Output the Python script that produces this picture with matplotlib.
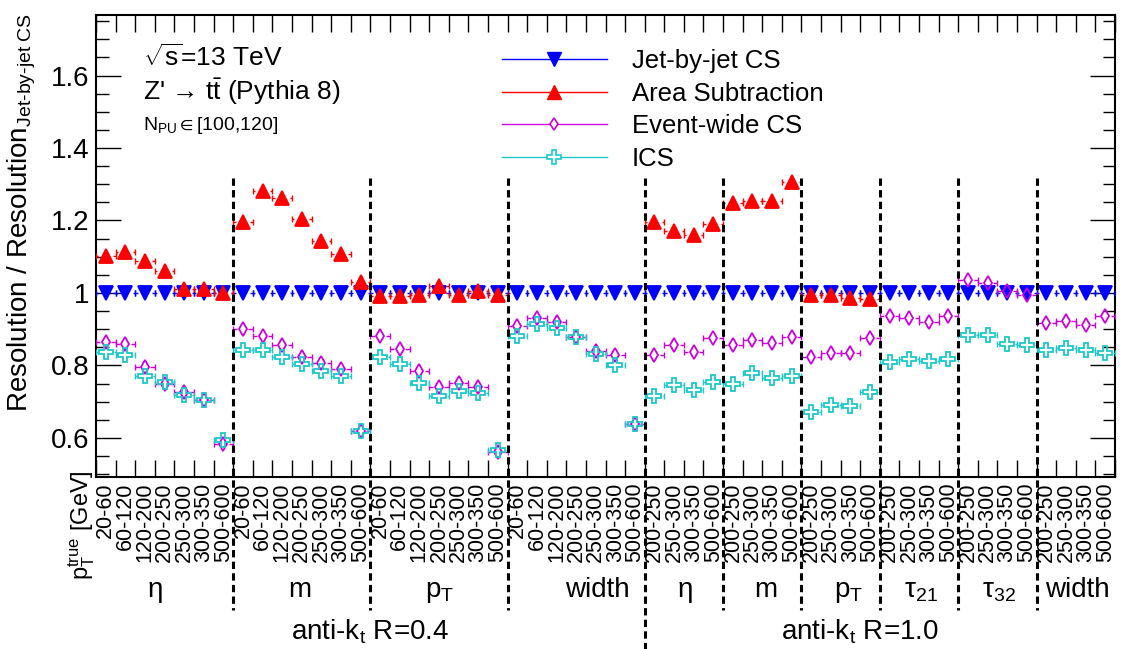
import numpy as np
import matplotlib
matplotlib.use('Agg')
import matplotlib.pyplot as plt
from matplotlib.lines import Line2D
from matplotlib.ticker import MultipleLocator, FuncFormatter
from matplotlib.transforms import blended_transform_factory

plt.rcParams['font.family'] = ['Liberation Sans', 'DejaVu Sans']
plt.rcParams['mathtext.fontset'] = 'custom'
plt.rcParams['mathtext.rm'] = 'Liberation Sans'
plt.rcParams['mathtext.it'] = 'Liberation Sans:italic'
plt.rcParams['mathtext.bf'] = 'Liberation Sans:bold'
plt.rcParams['mathtext.default'] = 'regular'

# pT bins for each jet collection
bins_r04 = ['20-60', '60-120', '120-200', '200-250', '250-300', '300-350', '500-600']
bins_r10 = ['200-250', '250-300', '300-350', '500-600']
obs_r04 = ['$\\eta$', 'm', 'p$_T$', 'width']
obs_r10 = ['$\\eta$', 'm', 'p$_T$', '$\\tau_{21}$', '$\\tau_{32}$', 'width']

nan = np.nan
# resolution ratios to jet-by-jet CS, one row per observable
jbj_cs = [1.0] * 52
area_sub = [1.102, 1.113, 1.087, 1.061, 1.011, 1.010, 0.999,
            1.195, 1.282, 1.263, 1.205, 1.142, 1.107, 1.030,
            0.992, 0.992, 0.995, 1.018, 0.995, 1.006, 0.995,
            nan, nan, nan, nan, nan, nan, nan,
            1.196, 1.172, 1.159, 1.190,
            1.249, 1.253, 1.253, 1.307,
            0.994, 0.994, 0.987, 0.982,
            nan, nan, nan, nan,
            nan, nan, nan, nan,
            nan, nan, nan, nan]
event_cs = [0.865, 0.859, 0.796, 0.750, 0.727, 0.704, 0.582,
            0.900, 0.882, 0.856, 0.824, 0.807, 0.790, 0.619,
            0.881, 0.844, 0.785, 0.741, 0.752, 0.741, 0.561,
            0.909, 0.930, 0.921, 0.879, 0.840, 0.828, 0.637,
            0.828, 0.856, 0.838, 0.875,
            0.856, 0.870, 0.863, 0.877,
            0.824, 0.833, 0.833, 0.875,
            0.936, 0.932, 0.921, 0.937,
            1.036, 1.027, 1.006, 0.993,
            0.918, 0.923, 0.911, 0.937]
ics = [0.836, 0.830, 0.770, 0.753, 0.718, 0.704, 0.593,
       0.842, 0.842, 0.824, 0.805, 0.785, 0.770, 0.619,
       0.824, 0.805, 0.752, 0.716, 0.730, 0.724, 0.566,
       0.882, 0.914, 0.902, 0.877, 0.831, 0.801, 0.637,
       0.715, 0.747, 0.732, 0.755,
       0.748, 0.780, 0.764, 0.771,
       0.672, 0.690, 0.688, 0.727,
       0.808, 0.817, 0.812, 0.819,
       0.884, 0.884, 0.859, 0.856,
       0.842, 0.847, 0.842, 0.833]

labels = bins_r04 * len(obs_r04) + bins_r10 * len(obs_r10)
nbins = len(labels)
centers = np.arange(nbins) + 0.5

fig = plt.figure(figsize=(11.23, 6.49), dpi=100)
W, H = 1123.0, 649.0
ax = fig.add_axes([96 / W, 1 - 477 / H, 1019 / W, 462 / H])
ax.set_xlim(0, nbins)
ax.set_ylim(0.492, 1.767)


def draw(vals, color, marker, ms, gap, filled, z):
    y = np.array(vals, dtype=float)
    ok = ~np.isnan(y)
    x = centers[ok]
    y = y[ok]
    ax.hlines(y, x - 0.5, x - gap, color=color, lw=1, zorder=z)
    ax.hlines(y, x + gap, x + 0.5, color=color, lw=1, zorder=z)
    ax.plot(x - 0.5, y, ls='none', marker='|', ms=4, mew=1, color=color, zorder=z)
    ax.plot(x + 0.5, y, ls='none', marker='|', ms=4, mew=1, color=color, zorder=z)
    ax.plot(x, y, ls='none', marker=marker, ms=ms, mec=color,
            mfc=color if filled else 'none', mew=1.3, zorder=z + 0.5)


c_blue, c_red, c_mag, c_cyan = '#0000ff', '#ff0000', '#cc00dd', '#1cc8c8'
draw(jbj_cs, c_blue, 'v', 9.8, 0.38, True, 3)
draw(area_sub, c_red, '^', 9.8, 0.38, True, 4)
draw(event_cs, c_mag, 'd', 6.8, 0.28, False, 5)
draw(ics, c_cyan, 'P', 10.2, 0.42, False, 6)

# axes ticks
ax.set_xticks(np.arange(nbins + 1))
ax.set_xticks(centers, minor=True)
ax.set_xticklabels(labels, minor=True, rotation=90)
ax.tick_params(axis='x', which='major', direction='in', length=12, width=1,
               top=True, bottom=True, labelbottom=False)
ax.tick_params(axis='x', which='minor', length=0, labelsize=15.5, pad=4)
ax.yaxis.set_major_locator(MultipleLocator(0.2))
ax.yaxis.set_minor_locator(MultipleLocator(0.05))
ax.yaxis.set_major_formatter(FuncFormatter(lambda v, p: '%g' % round(v, 2)))
ax.tick_params(axis='y', which='major', direction='in', length=18, width=1,
               left=True, right=True, labelsize=20, pad=5)
ax.tick_params(axis='y', which='minor', direction='in', length=9, width=1,
               left=True, right=True)
for sp in ax.spines.values():
    sp.set_linewidth(1.5)

# group separators
trans = blended_transform_factory(ax.transData, fig.transFigure)
edges = [7, 14, 21, 28, 32, 36, 40, 44, 48]
for e in edges:
    bottom = 0.0 if e == 28 else 1 - 610 / H
    ax.plot([e, e], [1 - 178 / H, bottom], transform=trans, color='black',
            lw=2.2, dashes=(2.4, 1.4), clip_on=False, zorder=8)

# observable names under each group
obs_pos = [3.0, 10.4, 17.55, 25.6, 30.05, 34.2, 38.4, 42.1, 46.1, 50.1]
for name, xp in zip(obs_r04 + obs_r10, obs_pos):
    ax.text(xp, 1 - 597 / H, name, transform=trans, ha='center',
            va='baseline', fontsize=20)
ax.text(14.0, 1 - 640 / H, 'anti-k$_t$ R=0.4', transform=trans, ha='center',
        va='baseline', fontsize=20)
ax.text(39.0, 1 - 640 / H, 'anti-k$_t$ R=1.0', transform=trans, ha='center',
        va='baseline', fontsize=20)

fig.text(22 / W, 1 - 13 / H,
         'Resolution / Resolution$_{\\text{Jet-by-jet CS}}$',
         rotation=90, ha='center', va='top', fontsize=20)
fig.text(82 / W, 1 - 470 / H, '$p_T^{true}$ [GeV]', rotation=90,
         ha='center', va='top', fontsize=17)

fig.text(143 / W, 1 - 66 / H, '$\\sqrt{s}$=13 TeV', fontsize=19, va='baseline')
fig.text(143 / W, 1 - 100 / H, "Z' \u2192 t$\\bar{t}$ (Pythia 8)",
         fontsize=19, va='baseline')
fig.text(143 / W, 1 - 130 / H, 'N$_{PU}\\in$[100,120]', fontsize=14,
         va='baseline')

handles = [
    Line2D([0], [0], color=c_blue, lw=1.0, marker='v', ms=9.4),
    Line2D([0], [0], color=c_red, lw=1.0, marker='^', ms=9.4),
    Line2D([0], [0], color=c_mag, lw=1.0, marker='d', ms=6.6, mfc='white', mew=1.2),
    Line2D([0], [0], color=c_cyan, lw=1.0, marker='P', ms=10, mfc='white', mew=1.2),
]
ax.legend(handles, ['Jet-by-jet CS', 'Area Subtraction', 'Event-wide CS', 'ICS'],
          loc='upper left', bbox_to_anchor=(0.398, 0.9264), frameon=False,
          fontsize=18.5, handlelength=4.1, handletextpad=0.96, labelspacing=0.34,
          borderpad=0, borderaxespad=0, numpoints=1)

fig.savefig('out.png', dpi=100)
